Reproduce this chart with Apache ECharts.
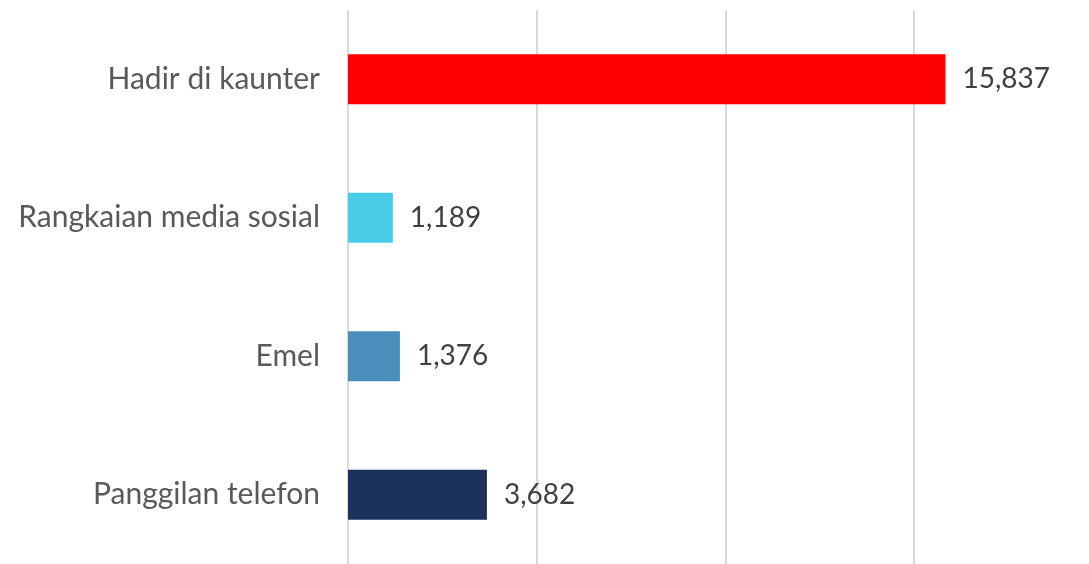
<!DOCTYPE html>
<html>
<head>
<meta charset="utf-8">
<script src="https://cdn.jsdelivr.net/npm/echarts@6/dist/echarts.min.js"></script>
<style>
  html, body { margin: 0; padding: 0; background: #ffffff; }
  #chart { width: 1089px; height: 564px; }
</style>
</head>
<body>
<div id="chart"></div>
<script>
// Channels, top to bottom
const categories = ['Hadir di kaunter', 'Rangkaian media sosial', 'Emel', 'Panggilan telefon'];
const values = [15837, 1189, 1376, 3682];
const barColors = ['#FF0000', '#48CCE8', '#4A8FBB', '#1B325F'];

const chart = echarts.init(document.getElementById('chart'));

chart.setOption({
  animation: false,
  grid: { left: 348, top: 10, right: 0, height: 557, containLabel: false },
  xAxis: {
    type: 'value',
    min: 0,
    max: 19640,
    interval: 5000,
    axisLabel: { show: false },
    axisLine: { show: false },
    axisTick: { show: false },
    splitLine: { show: true, showMaxLine: false, lineStyle: { color: '#D9D9D9', width: 2 } }
  },
  yAxis: {
    type: 'category',
    data: categories,
    inverse: true,
    axisLine: { show: false },
    axisTick: { show: false },
    axisLabel: {
      margin: 28,
      color: '#595959',
      fontFamily: 'Lato',
      fontSize: 30
    }
  },
  series: [{
    type: 'bar',
    barCategoryGap: '64%',
    data: values.map((v, i) => ({ value: v, itemStyle: { color: barColors[i] } })),
    label: {
      show: true,
      position: 'right',
      distance: 17,
      color: '#404040',
      fontFamily: 'Lato',
      fontSize: 28,
      formatter: p => p.value.toLocaleString('en-US')
    }
  }]
});
</script>
</body>
</html>
